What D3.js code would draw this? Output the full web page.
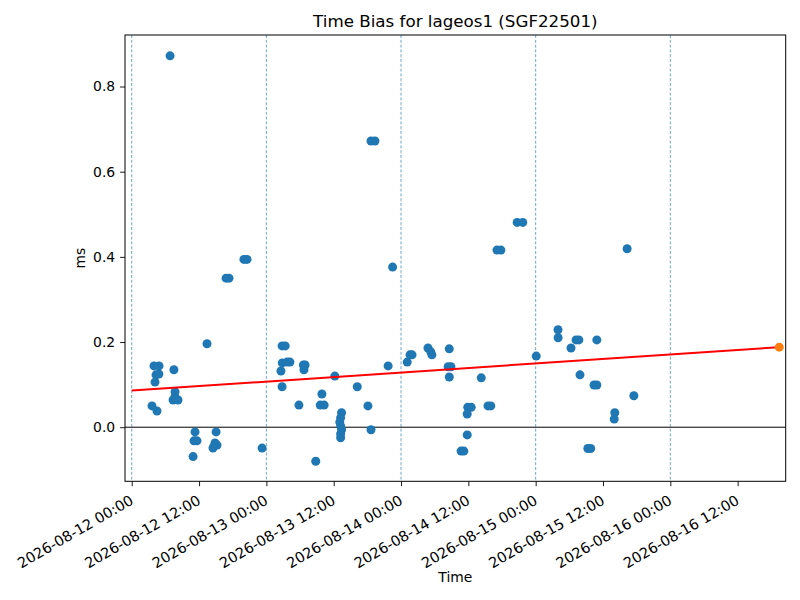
<!DOCTYPE html>
<html><head><meta charset="utf-8">
<script src="https://cdn.jsdelivr.net/npm/d3@7/dist/d3.min.js"></script>
<style>body{margin:0;background:#fff}text{font-family:"DejaVu Sans",sans-serif;fill:#000}</style>
</head><body>
<svg id="c" width="800" height="600"></svg>
<script>
const times = [
"2026-08-12 03:37","2026-08-12 04:30","2026-08-12 03:58","2026-08-12 04:52","2026-08-12 04:20","2026-08-12 04:50","2026-08-12 04:09",
"2026-08-12 07:31","2026-08-12 07:43","2026-08-12 07:42","2026-08-12 07:22","2026-08-12 08:15","2026-08-12 13:25",
"2026-08-12 11:17","2026-08-12 11:06","2026-08-12 11:38","2026-08-12 10:56","2026-08-12 15:02","2026-08-12 14:51",
"2026-08-12 14:40","2026-08-12 14:29","2026-08-12 15:12","2026-08-12 06:50","2026-08-12 16:49","2026-08-12 17:20",
"2026-08-12 20:00","2026-08-12 20:33","2026-08-12 23:14",
"2026-08-13 02:48","2026-08-13 03:21","2026-08-13 02:50","2026-08-13 03:42","2026-08-13 04:12","2026-08-13 02:36",
"2026-08-13 02:48","2026-08-13 06:36","2026-08-13 06:54","2026-08-13 06:42","2026-08-13 05:48","2026-08-13 09:54",
"2026-08-13 09:36","2026-08-13 10:18","2026-08-13 08:48","2026-08-13 12:12",
"2026-08-13 13:24","2026-08-13 13:14","2026-08-13 13:05","2026-08-13 13:14","2026-08-13 13:24","2026-08-13 13:14","2026-08-13 13:14",
"2026-08-13 16:12","2026-08-13 18:06","2026-08-13 18:39","2026-08-13 18:39","2026-08-13 19:21","2026-08-13 22:30","2026-08-13 21:42",
"2026-08-14 01:06","2026-08-14 01:36","2026-08-14 01:58","2026-08-14 04:48","2026-08-14 05:18","2026-08-14 05:30",
"2026-08-14 08:36","2026-08-14 08:24","2026-08-14 08:54","2026-08-14 08:36","2026-08-14 14:18","2026-08-14 11:54",
"2026-08-14 12:30","2026-08-14 11:48","2026-08-14 11:48","2026-08-14 10:42","2026-08-14 11:12","2026-08-14 15:30",
"2026-08-14 16:00","2026-08-14 17:06","2026-08-14 17:48","2026-08-14 20:42","2026-08-14 21:42",
"2026-08-15 00:06","2026-08-15 03:59","2026-08-15 04:00","2026-08-15 07:12","2026-08-15 07:42","2026-08-15 10:54",
"2026-08-15 06:18","2026-08-15 07:54","2026-08-15 10:24","2026-08-15 10:54","2026-08-15 17:30","2026-08-15 14:06",
"2026-08-15 14:00","2026-08-15 09:18","2026-08-15 09:48","2026-08-15 16:18"
];
const biasMs = [
0.050,0.038,0.144,0.144,0.123,0.125,0.106,
0.135,0.083,0.071,0.064,0.064,0.196,
-0.011,-0.032,-0.032,-0.069,-0.011,-0.037,
-0.044,-0.049,-0.042,0.872,0.350,0.350,
0.394,0.394,-0.049,
0.191,0.191,0.151,0.153,0.153,0.132,
0.095,0.146,0.146,0.135,0.052,0.078,
0.052,0.052,-0.080,0.120,
0.034,0.022,0.012,0.003,-0.006,-0.016,-0.025,
0.095,0.050,-0.006,0.672,0.672,0.376,0.144,
0.153,0.170,0.170,0.186,0.177,0.170,
0.184,0.142,0.142,0.118,0.116,0.047,
0.047,0.031,-0.018,-0.056,-0.056,0.050,
0.050,0.416,0.416,0.481,0.481,
0.167,0.229,0.210,0.205,0.205,0.205,
0.186,0.123,0.099,0.099,0.074,0.034,
0.019,-0.050,-0.050,0.419
];
const predTime = ["2026-08-16 19:25"];
const predValue = [0.188];
const trendTimes = ["2026-08-12 00:00","2026-08-16 19:25"];
const trendValues = [0.086,0.188];
const dayLines = ["2026-08-12 00:00","2026-08-13 00:00","2026-08-14 00:00","2026-08-15 00:00","2026-08-16 00:00"];
const xTicks = ["2026-08-12 00:00","2026-08-12 12:00","2026-08-13 00:00","2026-08-13 12:00","2026-08-14 00:00","2026-08-14 12:00","2026-08-15 00:00","2026-08-15 12:00","2026-08-16 00:00","2026-08-16 12:00"];
const yTicks = [0.0,0.2,0.4,0.6,0.8];
const xDomain = ["2026-08-11 22:48","2026-08-16 20:34"];
const yDomain = [-0.127,0.921];

const parse = d3.timeParse("%Y-%m-%d %H:%M");
const fmt = d3.timeFormat("%Y-%m-%d %H:%M");
const L=125,R=785.7,T=35,B=481.3;
const svg = d3.select("#c");
const x = d3.scaleTime().domain(xDomain.map(parse)).range([L,R]);
const y = d3.scaleLinear().domain(yDomain).range([B,T]);

const g = svg.append("g");
g.selectAll(".dl").data(dayLines).enter().append("line")
 .attr("x1",d=>x(parse(d))).attr("x2",d=>x(parse(d))).attr("y1",T).attr("y2",B)
 .attr("stroke","#1f77b4").attr("stroke-opacity",0.8).attr("stroke-width",0.8).attr("stroke-dasharray","3,1.8");
g.append("line").attr("x1",L).attr("x2",R).attr("y1",y(0)).attr("y2",y(0)).attr("stroke","#000").attr("stroke-width",1);
const pts = times.map((t,i)=>({t:parse(t),v:biasMs[i]}));
g.selectAll(".p").data(pts).enter().append("circle")
 .attr("cx",d=>x(d.t)).attr("cy",d=>y(d.v)).attr("r",4.5).attr("fill","#1f77b4");
const tl = trendTimes.map((t,i)=>({t:parse(t),v:trendValues[i]}));
g.append("path").datum(tl).attr("d",d3.line().x(d=>x(d.t)).y(d=>y(d.v)))
 .attr("stroke","#ff0000").attr("stroke-width",2).attr("fill","none");
g.selectAll(".o").data(predTime.map((t,i)=>({t:parse(t),v:predValue[i]}))).enter().append("circle")
 .attr("cx",d=>x(d.t)).attr("cy",d=>y(d.v)).attr("r",4.5).attr("fill","#ff7f0e");

svg.append("rect").attr("x",L).attr("y",T).attr("width",R-L).attr("height",B-T).attr("fill","none").attr("stroke","#000").attr("stroke-width",1);

const xa = svg.append("g").attr("transform",`translate(0,${B})`)
 .call(d3.axisBottom(x).tickValues(xTicks.map(parse)).tickFormat(fmt).tickSize(4.9).tickSizeOuter(0));
xa.select(".domain").remove();
xa.selectAll("text").attr("font-size","14.5px").attr("font-family","DejaVu Sans")
 .attr("text-anchor","end").attr("dy",null).attr("y",0)
 .attr("transform","translate(-3,13) rotate(-30)").attr("dominant-baseline","hanging");
const ya = svg.append("g").attr("transform",`translate(${L},0)`)
 .call(d3.axisLeft(y).tickValues(yTicks).tickFormat(d3.format(".1f")).tickSize(4.9).tickPadding(4.9).tickSizeOuter(0));
ya.select(".domain").remove();
ya.selectAll("text").attr("font-size","13.9px").attr("font-family","DejaVu Sans");
svg.selectAll(".tick line").attr("stroke","#000").attr("stroke-width",0.9);

svg.append("text").attr("x",(L+R)/2).attr("y",27).attr("text-anchor","middle").attr("font-size","16.7px").text("Time Bias for lageos1 (SGF22501)");
svg.append("text").attr("x",(L+R)/2).attr("y",582).attr("text-anchor","middle").attr("font-size","13.9px").text("Time");
svg.append("text").attr("transform",`translate(85,${(T+B)/2}) rotate(-90)`).attr("text-anchor","middle").attr("font-size","13.9px").text("ms");
</script>
</body></html>
